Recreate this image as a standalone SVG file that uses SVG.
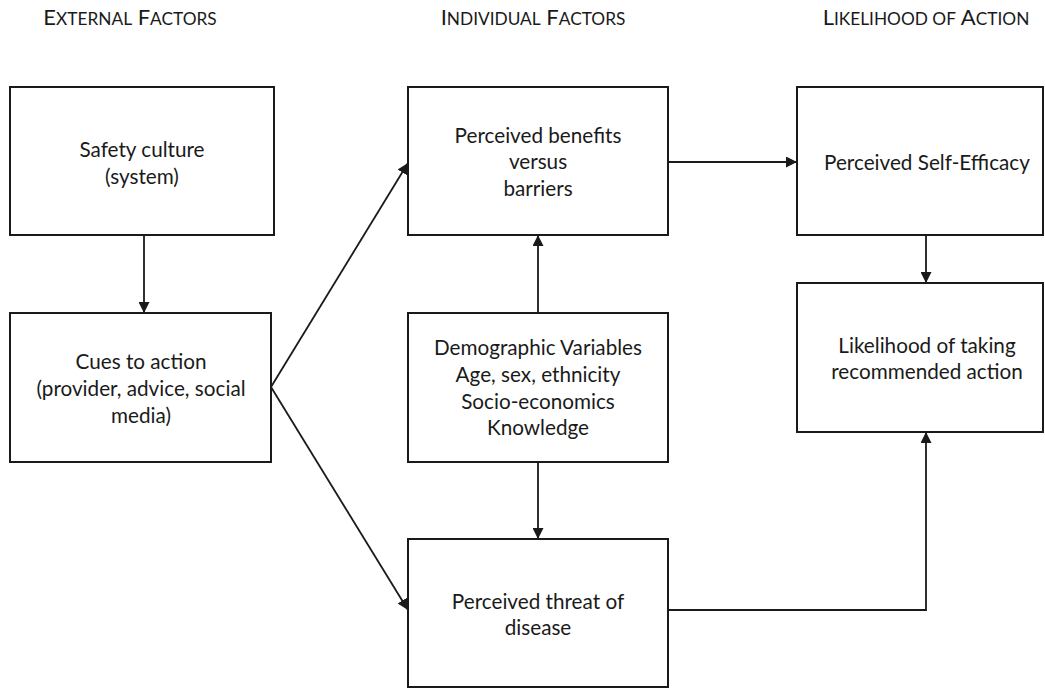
<svg xmlns="http://www.w3.org/2000/svg" width="1045" height="688" viewBox="0 0 1045 688">
  <style>
    .box { fill: #ffffff; stroke: #1a1a1a; stroke-width: 2; }
    .lbl { font-family: Lato, "Open Sans", sans-serif; font-size: 20.7px; fill: #1a1a1a; text-anchor: middle; }
    .hdr { font-family: Lato, "Open Sans", sans-serif; font-size: 22px; fill: #1a1a1a; text-anchor: middle; }
    .sc { font-size: 17.3px; }
    .edge { fill: none; stroke: #1a1a1a; stroke-width: 1.8; }
  </style>
  <defs>
    <marker id="arrow" viewBox="0 0 10 10" refX="10" refY="5" markerWidth="11" markerHeight="11" markerUnits="userSpaceOnUse" orient="auto">
      <path d="M0,0 L10,5 L0,10 z" fill="#1a1a1a"/>
    </marker>
  </defs>
  <rect width="1045" height="688" fill="#ffffff"/>

  <!-- column headings -->
  <g id="headings">
    <text class="hdr" x="130" y="25">E<tspan class="sc">XTERNAL</tspan> F<tspan class="sc">ACTORS</tspan></text>
    <text class="hdr" x="533" y="25">I<tspan class="sc">NDIVIDUAL</tspan> F<tspan class="sc">ACTORS</tspan></text>
    <text class="hdr" x="926" y="25">L<tspan class="sc">IKELIHOOD OF</tspan> A<tspan class="sc">CTION</tspan></text>
  </g>

  <!-- connectors -->
  <g id="connectors">
    <line class="edge" x1="144" y1="235" x2="144" y2="313" marker-end="url(#arrow)"/>
    <line class="edge" x1="271" y1="387" x2="408" y2="163" marker-end="url(#arrow)"/>
    <line class="edge" x1="271" y1="387" x2="408" y2="610" marker-end="url(#arrow)"/>
    <line class="edge" x1="538" y1="313" x2="538" y2="235" marker-end="url(#arrow)"/>
    <line class="edge" x1="538" y1="462" x2="538" y2="539" marker-end="url(#arrow)"/>
    <line class="edge" x1="668" y1="162" x2="797" y2="162" marker-end="url(#arrow)"/>
    <line class="edge" x1="926" y1="235" x2="926" y2="283" marker-end="url(#arrow)"/>
    <polyline class="edge" points="668,610 926,610 926,432" marker-end="url(#arrow)"/>
  </g>

  <g id="safety-culture">
    <rect class="box" x="10" y="87" width="264" height="148"/>
    <text class="lbl" x="142" y="157">Safety culture</text>
    <text class="lbl" x="142" y="184">(system)</text>
  </g>

  <g id="cues-to-action">
    <rect class="box" x="10" y="313" width="261" height="149"/>
    <text class="lbl" x="141" y="369">Cues to action</text>
    <text class="lbl" x="141" y="396">(provider, advice, social</text>
    <text class="lbl" x="141" y="423">media)</text>
  </g>

  <g id="benefits-barriers">
    <rect class="box" x="408" y="87" width="260" height="148"/>
    <text class="lbl" x="538" y="143">Perceived benefits</text>
    <text class="lbl" x="538" y="169">versus</text>
    <text class="lbl" x="538" y="196">barriers</text>
  </g>

  <g id="demographics">
    <rect class="box" x="408" y="313" width="260" height="149"/>
    <text class="lbl" x="538" y="355">Demographic Variables</text>
    <text class="lbl" x="538" y="382">Age, sex, ethnicity</text>
    <text class="lbl" x="538" y="409">Socio-economics</text>
    <text class="lbl" x="538" y="435">Knowledge</text>
  </g>

  <g id="threat">
    <rect class="box" x="408" y="539" width="260" height="148"/>
    <text class="lbl" x="538" y="609">Perceived threat of</text>
    <text class="lbl" x="538" y="635">disease</text>
  </g>

  <g id="self-efficacy">
    <rect class="box" x="797" y="87" width="246" height="148"/>
    <text class="lbl" x="927" y="170">Perceived Self-Efficacy</text>
  </g>

  <g id="likelihood">
    <rect class="box" x="797" y="283" width="246" height="149"/>
    <text class="lbl" x="927" y="353">Likelihood of taking</text>
    <text class="lbl" x="927" y="379">recommended action</text>
  </g>
</svg>
